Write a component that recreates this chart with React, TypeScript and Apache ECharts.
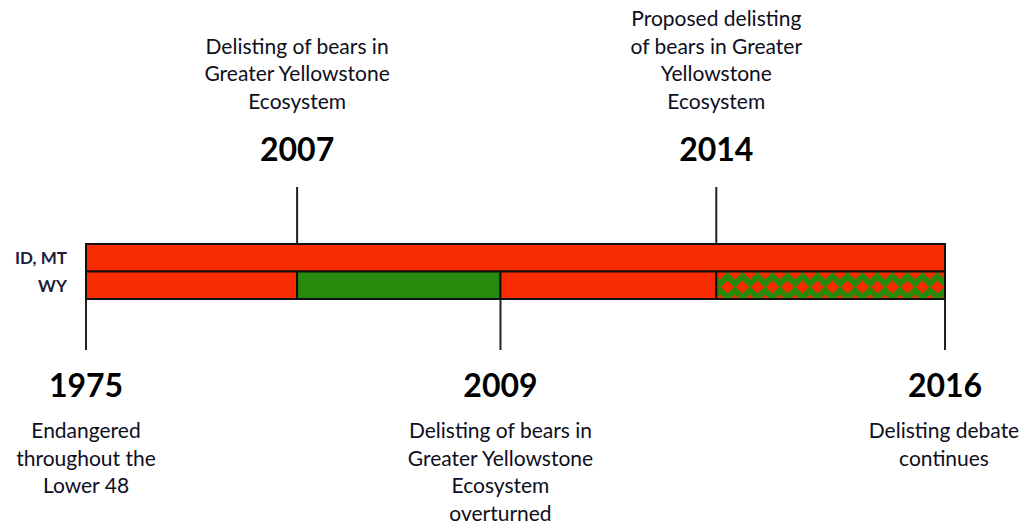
import React, { useEffect, useRef } from 'react';
import * as echarts from 'echarts';

// Rows of the status bar (category axis, bottom to top)
const rows = ['WY', 'ID, MT'];

// Milestones along the (schematic) timeline
const milestoneYears = ['1975', '2007', '2009', '2014', '2016'];
// position of each milestone along the schematic timeline
const milestoneSlots = [0, 0.983, 1.93, 2.935, 4];
const milestoneSide = ['bottom', 'top', 'bottom', 'top', 'bottom'];
const milestoneNotes = [
  'Endangered\nthroughout the\nLower 48',
  'Delisting of bears in\nGreater Yellowstone\nEcosystem',
  'Delisting of bears in\nGreater Yellowstone\nEcosystem\noverturned',
  'Proposed delisting\nof bears in Greater\nYellowstone\nEcosystem',
  'Delisting debate\ncontinues',
];

// Status segments
const segRows = ['ID, MT', 'WY', 'WY', 'WY', 'WY'];
const segStart = ['1975', '1975', '2007', '2009', '2014'];
const segEnd = ['2016', '2007', '2009', '2014', '2016'];
const segStatus = ['listed', 'listed', 'delisted', 'listed', 'proposed'];

const RED = '#f72a00';
const GREEN = '#288a0c';
const FONT = 'Lato, "Open Sans", sans-serif';

function makePattern(): HTMLCanvasElement {
  const c = document.createElement('canvas');
  c.width = 15;
  c.height = 28;
  const ctx = c.getContext('2d')!;
  ctx.fillStyle = GREEN;
  ctx.fillRect(0, 0, 15, 28);
  ctx.fillStyle = RED;
  const diamond = (cx: number, cy: number, rx: number, ry: number) => {
    ctx.beginPath();
    ctx.moveTo(cx, cy - ry);
    ctx.lineTo(cx + rx, cy);
    ctx.lineTo(cx, cy + ry);
    ctx.lineTo(cx - rx, cy);
    ctx.closePath();
    ctx.fill();
  };
  diamond(7.5, 7, 6.6, 6.6);
  diamond(0, 21, 6.6, 6.6);
  diamond(15, 21, 6.6, 6.6);
  return c;
}

export default function App() {
  const ref = useRef<HTMLDivElement>(null);

  useEffect(() => {
    document.body.style.margin = '0';
    if (!ref.current) return;
    const chart = echarts.init(ref.current, null, { renderer: 'svg' });
    const pattern = makePattern();

    const slotOf = (y: string) => milestoneSlots[milestoneYears.indexOf(y)];
    const segData = segRows.map((r, i) => [
      slotOf(segStart[i]),
      slotOf(segEnd[i]),
      rows.indexOf(r),
      i,
    ]);
    const msData = milestoneSlots.map((s, i) => [s, i]);

    const noteStyle = {
      fontFamily: FONT,
      fontSize: 21,
      lineHeight: 27.5,
      fill: '#0e0e1c',
    };
    const yearStyle = {
      fontFamily: FONT,
      fontWeight: 'bold',
      fontSize: 32,
      fill: '#000000',
    };

    const option: any = {
      animation: false,
      backgroundColor: '#ffffff',
      grid: { left: 86, right: 81, top: 244, bottom: 226 },
      xAxis: { type: 'value', min: 0, max: 4, show: false },
      yAxis: {
        type: 'category',
        data: rows,
        axisLine: { show: false },
        axisTick: { show: false },
        splitLine: { show: false },
        axisLabel: {
          fontFamily: FONT,
          fontWeight: 'bold',
          fontSize: 17,
          color: '#1c1c3a',
          margin: 19,
          align: 'right',
        },
      },
      series: [
        {
          type: 'custom',
          name: 'status',
          data: segData,
          encode: { x: [0, 1], y: 2 },
          renderItem: (params: any, api: any) => {
            const s = api.coord([api.value(0), api.value(2)]);
            const e = api.coord([api.value(1), api.value(2)]);
            const h = api.size([0, 1])[1];
            const idx = api.value(3);
            const status = segStatus[idx];
            const x = s[0];
            const y = s[1] - h / 2;
            let fill: any = RED;
            if (status === 'delisted') fill = GREEN;
            if (status === 'proposed')
              fill = { image: pattern, repeat: 'repeat', x, y };
            return {
              type: 'rect',
              shape: { x, y, width: e[0] - s[0], height: h },
              style: { fill, stroke: '#111111', lineWidth: 2 },
            };
          },
        },
        {
          type: 'custom',
          name: 'milestones',
          data: msData,
          encode: { x: 0 },
          renderItem: (params: any, api: any) => {
            const i = api.value(1);
            const x = api.coord([api.value(0), 0])[0];
            const cs = params.coordSys;
            const top = cs.y;
            const bottom = cs.y + cs.height;
            const side = milestoneSide[i];
            const children: any[] = [];
            const lineStyle = { stroke: '#222222', lineWidth: 2 };
            if (side === 'top') {
              children.push({
                type: 'line',
                shape: { x1: x, y1: top - 57, x2: x, y2: top },
                style: lineStyle,
              });
              children.push({
                type: 'text',
                style: {
                  ...yearStyle,
                  text: milestoneYears[i],
                  x,
                  y: top - 96,
                  align: 'center',
                  verticalAlign: 'middle',
                },
              });
              children.push({
                type: 'text',
                style: {
                  ...noteStyle,
                  text: milestoneNotes[i],
                  x,
                  y: top - 130,
                  align: 'center',
                  verticalAlign: 'bottom',
                },
              });
            } else {
              children.push({
                type: 'line',
                shape: { x1: x, y1: bottom, x2: x, y2: bottom + 51 },
                style: lineStyle,
              });
              children.push({
                type: 'text',
                style: {
                  ...yearStyle,
                  text: milestoneYears[i],
                  x,
                  y: bottom + 85,
                  align: 'center',
                  verticalAlign: 'middle',
                },
              });
              children.push({
                type: 'text',
                style: {
                  ...noteStyle,
                  text: milestoneNotes[i],
                  x: i === milestoneYears.length - 1 ? Math.min(x, 1026 - 82) : x,
                  y: bottom + 117,
                  align: 'center',
                  verticalAlign: 'top',
                },
              });
            }
            return { type: 'group', children };
          },
          z: 1,
        },
      ],
    };
    chart.setOption(option);
    return () => chart.dispose();
  }, []);

  return <div ref={ref} style={{ width: 1026, height: 525 }} />;
}
